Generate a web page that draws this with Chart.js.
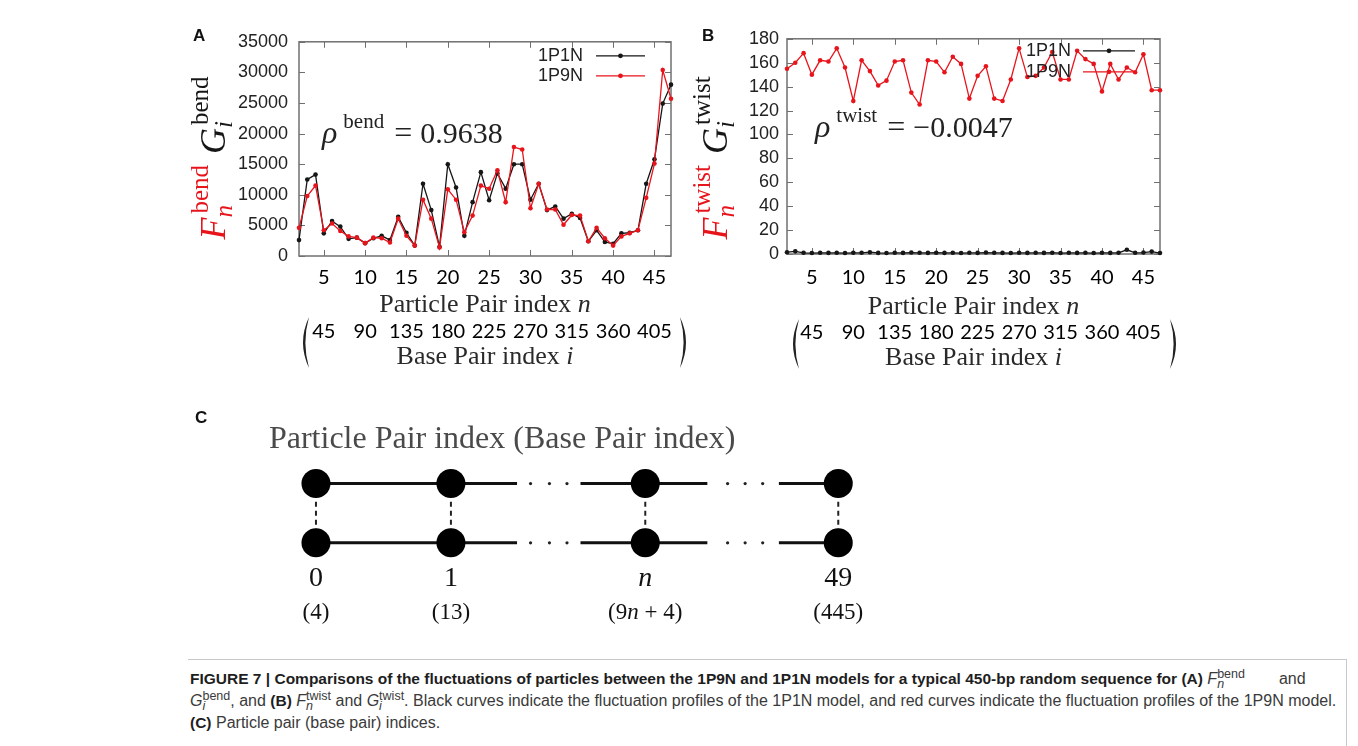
<!DOCTYPE html>
<html>
<head>
<meta charset="utf-8">
<script src="https://cdn.jsdelivr.net/npm/chart.js@4.4.1/dist/chart.umd.min.js"></script>
<style>
  html, body { margin: 0; padding: 0; background: #fff; }
  body { width: 1358px; height: 746px; position: relative; overflow: hidden; font-family: "Liberation Sans", Arial, sans-serif; }
  canvas { position: absolute; }
  .lt { position: absolute; font: bold 17px "Liberation Sans", Arial, sans-serif; color: #111; line-height: 17px; }
  .cap { position: absolute; left: 188px; top: 659px; width: 1158px; height: 100px; border-top: 1px solid #c8c8c8; border-right: 1px solid #c8c8c8; }
  .cap p { margin: 0; position: absolute; left: 2px; white-space: nowrap; font-size: 16px; color: #3a3a3a; line-height: 22px; }
  .cap b { color: #1e1e1e; font-size: 15.5px; }
  .ss { display: inline-block; vertical-align: -4px; line-height: 10px; font-size: 12.5px; }
  .ss span { display: block; }
</style>
</head>
<body>
<canvas id="chartA" width="510" height="355" style="left:180px;top:20px"></canvas>
<canvas id="chartB" width="500" height="355" style="left:690px;top:20px"></canvas>
<canvas id="chartC" width="720" height="250" style="left:180px;top:395px"></canvas>
<div class="lt" style="left:193px;top:27px">A</div>
<div class="lt" style="left:702px;top:27px">B</div>
<div class="lt" style="left:195px;top:409px">C</div>
<div class="cap">
  <p style="top:8px"><b>FIGURE 7 | Comparisons of the fluctuations of particles between the 1P9N and 1P1N models for a typical 450-bp random sequence for (A)</b> <i>F</i><span class="ss"><span>bend</span><span><i>n</i></span></span><span style="margin-left:34px">and</span></p>
  <p style="top:30px"><i>G</i><span class="ss"><span>bend</span><span><i>i</i></span></span>, and <b>(B)</b> <i>F</i><span class="ss"><span>twist</span><span><i>n</i></span></span> and <i>G</i><span class="ss"><span>twist</span><span><i>i</i></span></span>. Black curves indicate the fluctuation profiles of the 1P1N model, and red curves indicate the fluctuation profiles of the 1P9N model.</p>
  <p style="top:52px"><b>(C)</b> Particle pair (base pair) indices.</p>
</div>
<script>
// particle pair index n on the x axis of panels A and B
const particleIndex = [2, 3, 4, 5, 6, 7, 8, 9, 10, 11, 12, 13, 14, 15, 16, 17, 18, 19, 20, 21, 22, 23, 24,
  25, 26, 27, 28, 29, 30, 31, 32, 33, 34, 35, 36, 37, 38, 39, 40, 41, 42, 43, 44, 45, 46, 47];
const particleTicks = [5, 10, 15, 20, 25, 30, 35, 40, 45];
const baseTickLabels = ['45', '90', '135', '180', '225', '270', '315', '360', '405'];

// panel A, bending fluctuations
const bend1P1N = [2600, 12500, 13300, 3700, 5700, 4800, 2800, 3000, 2100, 2900, 3300, 2600, 6400, 3800,
  1700, 11800, 7500, 1500, 15000, 11200, 3300, 8800, 13700, 9100, 13500, 11000, 15000, 15000, 9200,
  11800, 7500, 8100, 6100, 6900, 6200, 2400, 4200, 2300, 2000, 3700, 3800, 4200, 11800, 15800, 24900, 28000];
const bend1P9N = [4600, 9800, 11500, 4200, 5300, 4100, 3200, 3000, 2100, 3000, 2900, 2200, 6100, 3300,
  1700, 9200, 6100, 1400, 10900, 9200, 3900, 6600, 11500, 11000, 14000, 8800, 17800, 17400, 7800,
  11800, 7600, 7600, 5100, 6700, 6600, 2400, 4600, 2900, 1700, 3200, 3700, 4200, 9500, 15100, 30400, 25700];

// panel B, twisting fluctuations
const twist1P1N = [1.5, 2.2, 1, 0.8, 1, 0.9, 1, 0.8, 1, 1, 1.5, 0.9, 0.8, 1, 0.9, 1.2, 1, 0.9, 1.1, 0.9,
  1, 0.8, 1, 0.9, 1.2, 1, 0.9, 0.8, 1, 0.9, 1, 0.9, 1.1, 0.8, 1, 0.9, 1, 0.8, 1, 0.9, 1, 3.5, 1, 1.2, 2, 0.8];
const twist1P9N = [155, 160, 168, 150, 162, 161, 172, 156, 128, 162, 153, 141, 145, 161, 162, 135, 125,
  162, 161, 152, 165, 159, 130, 149, 157, 130, 128, 146, 172, 148, 149, 156, 169, 146, 146, 170, 163,
  159, 136, 159, 146, 156, 152, 167, 137, 137];

// panel C, the particle pair ladder
const nodeX = [0, 1, 2.44, 3.87];
const nodeLabels = ['0', '1', 'n', '49'];
const baseLabels = ['(4)', '(13)', '(9n + 4)', '(445)'];
const rowSegments = [[0, 1.49], [1.96, 2.90], [3.43, 3.87]];
const ellipsisX = [1.59, 1.73, 1.86, 3.05, 3.18, 3.31];

const RED = '#e8141c';
const INK = '#161616';
const SANS = '"Liberation Sans", Arial, sans-serif';
const SERIF = '"Liberation Serif", "DejaVu Serif", serif';
const TICKF = 'Lato, "Open Sans", sans-serif';

function toPoints(values) {
  return particleIndex.map((n, i) => ({ x: n, y: values[i] }));
}

function measureRich(ctx, parts) {
  let w = 0;
  for (const p of parts) {
    w += p.gap || 0;
    let m = 0;
    for (const s of (p.stack || [p])) {
      ctx.font = s.font;
      m = Math.max(m, (s.dx || 0) + ctx.measureText(s.text).width);
    }
    w += m;
  }
  return w;
}

function drawRich(ctx, parts, x, y) {
  let cx = x;
  for (const p of parts) {
    cx += p.gap || 0;
    let m = 0;
    for (const s of (p.stack || [p])) {
      ctx.font = s.font;
      ctx.fillStyle = s.color || p.color || INK;
      ctx.fillText(s.text, cx + (s.dx || 0), y + (s.dy || 0));
      m = Math.max(m, (s.dx || 0) + ctx.measureText(s.text).width);
    }
    cx += m;
  }
}

function paren(ctx, xt, yt, yb, bulge, thick) {
  const mid = (yt + yb) / 2;
  ctx.beginPath();
  ctx.moveTo(xt, yt);
  ctx.quadraticCurveTo(xt + 2 * bulge, mid, xt, yb);
  ctx.quadraticCurveTo(xt + 2 * bulge - 2 * thick * Math.sign(bulge), mid, xt, yt);
  ctx.fill();
}

const panelDeco = {
  id: 'panelDeco',
  beforeDatasetsDraw(chart) {
    const { ctx, chartArea: a, scales } = chart;
    ctx.save();
    ctx.strokeStyle = '#707070';
    ctx.lineWidth = 1.5;
    ctx.strokeRect(a.left, a.top, a.width, a.height);
    ctx.lineWidth = 1;
    ctx.beginPath();
    scales.x.ticks.forEach(t => {
      const p = Math.round(scales.x.getPixelForValue(t.value)) + 0.5;
      ctx.moveTo(p, a.bottom); ctx.lineTo(p, a.bottom - 6);
      ctx.moveTo(p, a.top); ctx.lineTo(p, a.top + 6);
    });
    scales.y.ticks.forEach(t => {
      const p = Math.round(scales.y.getPixelForValue(t.value)) + 0.5;
      ctx.moveTo(a.left, p); ctx.lineTo(a.left + 6, p);
      ctx.moveTo(a.right, p); ctx.lineTo(a.right - 6, p);
    });
    ctx.stroke();
    ctx.restore();
  },
  afterDraw(chart, args, o) {
    const { ctx, chartArea: a, scales } = chart;
    ctx.save();
    // legend inside the frame
    const lg = o.legend;
    chart.data.datasets.forEach((ds, i) => {
      const y = a.top + lg.top + i * lg.step;
      ctx.font = `18px ${SANS}`;
      ctx.fillStyle = '#222';
      ctx.textAlign = 'right';
      ctx.textBaseline = 'middle';
      ctx.fillText(ds.label, a.right - lg.textRight, y);
      ctx.strokeStyle = ds.borderColor;
      ctx.lineWidth = 1.3;
      ctx.beginPath();
      ctx.moveTo(a.right - lg.lineFrom, y);
      ctx.lineTo(a.right - lg.lineTo, y);
      ctx.stroke();
      ctx.fillStyle = ds.borderColor;
      ctx.beginPath();
      ctx.arc(a.right - (lg.lineFrom + lg.lineTo) / 2, y, 2.4, 0, Math.PI * 2);
      ctx.fill();
    });
    ctx.textAlign = 'left';
    ctx.textBaseline = 'alphabetic';
    // correlation coefficient
    drawRich(ctx, o.rho, a.left + o.rhoAt[0], a.top + o.rhoAt[1]);
    // axis titles
    const xw = measureRich(ctx, o.xTitle);
    drawRich(ctx, o.xTitle, (a.left + a.right) / 2 - xw / 2, scales.x.bottom - o.titleLift);
    const x2w = measureRich(ctx, o.x2Title);
    drawRich(ctx, o.x2Title, (a.left + a.right) / 2 - x2w / 2, scales.x2.bottom - o.titleLift);
    // y title, rotated
    const yw = measureRich(ctx, o.yTitle);
    ctx.save();
    ctx.translate(a.left - o.yTitleGap, o.yTitleMid);
    ctx.rotate(-Math.PI / 2);
    drawRich(ctx, o.yTitle, -yw / 2, 0);
    ctx.restore();
    // big parentheses around the base pair row
    ctx.fillStyle = '#222';
    const s2 = scales.x2;
    paren(ctx, a.left + o.paren[0], s2.top - 1, s2.bottom - 2, -6, 2.4);
    paren(ctx, a.right + o.paren[1], s2.top - 1, s2.bottom - 2, 6, 2.4);
    ctx.restore();
  }
};

function sup(text, color, dx) {
  return { text, font: `25px ${SERIF}`, color, dy: -17, dx };
}
function sub(text, color, dx) {
  return { text, font: `italic 25px ${SERIF}`, color, dy: 7, dx };
}

function makePanel(id, cfg) {
  const tickFont = { family: TICKF, size: 20 };
  return new Chart(document.getElementById(id), {
    type: 'line',
    data: {
      datasets: [
        { label: '1P1N', data: toPoints(cfg.black), borderColor: INK, backgroundColor: INK,
          borderWidth: 1.3, pointRadius: 2.3, pointBorderWidth: 0, pointBackgroundColor: INK, order: 1, clip: 6 },
        { label: '1P9N', data: toPoints(cfg.red), borderColor: RED, backgroundColor: RED,
          borderWidth: 1.3, pointRadius: 2.3, pointBorderWidth: 0, pointBackgroundColor: RED, order: 0, clip: 6 }
      ]
    },
    options: {
      responsive: false,
      animation: false,
      events: [],
      layout: { padding: cfg.padding },
      plugins: {
        legend: { display: false },
        tooltip: { enabled: false },
        panelDeco: cfg.deco
      },
      scales: {
        x: {
          type: 'linear', position: 'bottom', weight: 0, min: 2, max: 47,
          afterBuildTicks: s => { s.ticks = particleTicks.map(v => ({ value: v })); },
          afterFit: s => { s.height = cfg.xHeight; },
          grid: { display: false, drawTicks: false },
          border: { display: false },
          ticks: { padding: cfg.xPad, font: tickFont, color: '#000', maxRotation: 0, autoSkip: false }
        },
        x2: {
          type: 'linear', position: 'bottom', weight: 1, min: 2, max: 47,
          afterBuildTicks: s => { s.ticks = particleTicks.map(v => ({ value: v })); },
          afterFit: s => { s.height = cfg.x2Height; },
          grid: { display: false, drawTicks: false },
          border: { display: false },
          ticks: { padding: cfg.x2Pad, font: tickFont, color: '#000', maxRotation: 0, autoSkip: false,
            callback: (v, i) => baseTickLabels[i] }
        },
        y: {
          min: 0, max: cfg.yMax,
          afterFit: s => { s.width = cfg.yWidth; },
          grid: { display: false, drawTicks: false },
          border: { display: false },
          ticks: { stepSize: cfg.yStep, padding: cfg.yPad, autoSkip: false,
            font: { family: SANS, size: 18 }, color: '#222', callback: v => String(v) }
        }
      }
    },
    plugins: [panelDeco]
  });
}

const xTitle = [
  { text: 'Particle Pair index ', font: `26px ${SERIF}`, color: '#2a2a2a' },
  { text: 'n', font: `italic 26px ${SERIF}`, color: '#2a2a2a' }
];
const x2Title = [
  { text: 'Base Pair index ', font: `26px ${SERIF}`, color: '#2a2a2a' },
  { text: 'i', font: `italic 26px ${SERIF}`, color: '#2a2a2a' }
];

function yTitleParts(word) {
  return [
    { text: 'F', font: `italic 36px ${SERIF}`, color: RED },
    { stack: [sup(word, RED, 4), sub('n', RED, 0)] },
    { text: ' ', font: `36px ${SERIF}`, gap: 2 },
    { text: 'G', font: `italic 36px ${SERIF}`, color: INK },
    { stack: [sup(word, INK, 3), sub('i', INK, 0)] }
  ];
}

function rhoParts(word, value) {
  return [
    { text: 'ρ', font: `italic 32px ${SERIF}`, color: '#222' },
    { text: word, font: `21px ${SERIF}`, color: '#222', dy: -15, gap: 6 },
    { text: '=', font: `32px ${SERIF}`, color: '#222', gap: 10 },
    { text: value, font: `30px ${SERIF}`, color: '#222', gap: 8 }
  ];
}

makePanel('chartA', {
  black: bend1P1N, red: bend1P9N,
  yMax: 35000, yStep: 5000, yWidth: 119, yPad: 11,
  xHeight: 62, x2Height: 52, xPad: 10, x2Pad: 2,
  padding: { left: 0, top: 14, right: 19, bottom: 5 },
  deco: {
    legend: { top: 14, step: 20, textRight: 88, lineFrom: 75, lineTo: 26 },
    rho: rhoParts('bend', '0.9638'), rhoAt: [23, 101],
    xTitle, x2Title, titleLift: 6,
    yTitle: yTitleParts('bend'), yTitleGap: 74, yTitleMid: 138,
    paren: [10, 9]
  }
});

makePanel('chartB', {
  black: twist1P1N, red: twist1P9N,
  yMax: 180, yStep: 20, yWidth: 97, yPad: 8,
  xHeight: 66, x2Height: 51, xPad: 11.5, x2Pad: 1,
  padding: { left: 0, top: 15, right: 30, bottom: 4 },
  deco: {
    legend: { top: 12, step: 21, textRight: 89, lineFrom: 77, lineTo: 25 },
    rho: rhoParts('twist', '\u22120.0047'), rhoAt: [28, 98],
    xTitle, x2Title, titleLift: 6,
    yTitle: yTitleParts('twist'), yTitleGap: 60, yTitleMid: 138,
    paren: [12, 10]
  }
});

// panel C: ladder of particle pairs
const rowData = yv => rowSegments.flatMap(([a, b]) => [{ x: a, y: yv }, { x: b, y: yv }, { x: b, y: null }]);
const rungData = nodeX.flatMap(xv => [{ x: xv, y: 0 }, { x: xv, y: 1 }, { x: xv, y: null }]);
const nodeData = nodeX.flatMap(xv => [{ x: xv, y: 1 }, { x: xv, y: 0 }]);
const dotData = ellipsisX.flatMap(xv => [{ x: xv, y: 1 }, { x: xv, y: 0 }]);

const diagramText = {
  id: 'diagramText',
  afterDraw(chart) {
    const { ctx, scales: { x, y } } = chart;
    ctx.save();
    ctx.textBaseline = 'middle';
    ctx.textAlign = 'center';
    ctx.font = `32px ${SERIF}`;
    ctx.fillStyle = '#4a4a4a';
    ctx.fillText('Particle Pair index (Base Pair index)', x.getPixelForValue(1.38), y.getPixelForValue(1.74));
    ctx.textAlign = 'left';
    const put = (str, xv, yv, size) => {
      const parts = str.split(/(n)/).filter(Boolean).map(t => ({
        text: t, font: `${t === 'n' ? 'italic ' : ''}${size}px ${SERIF}`, color: '#111'
      }));
      const w = measureRich(ctx, parts);
      drawRich(ctx, parts, x.getPixelForValue(xv) - w / 2, y.getPixelForValue(yv));
    };
    nodeX.forEach((xv, i) => {
      put(nodeLabels[i], xv, -0.61, 28);
      put(baseLabels[i], xv, -1.19, 23);
    });
    ctx.restore();
  }
};

new Chart(document.getElementById('chartC'), {
  type: 'scatter',
  data: {
    datasets: [
      { data: nodeData, pointRadius: 14.5, pointBackgroundColor: '#000', pointBorderWidth: 0, showLine: false },
      { data: dotData, pointRadius: 1.6, pointBackgroundColor: '#222', pointBorderWidth: 0, showLine: false },
      { data: rowData(1), showLine: true, borderColor: '#111', borderWidth: 3, pointRadius: 0 },
      { data: rowData(0), showLine: true, borderColor: '#111', borderWidth: 3, pointRadius: 0 },
      { data: rungData, showLine: true, borderColor: '#222', borderWidth: 2, borderDash: [5, 4], pointRadius: 0 }
    ]
  },
  options: {
    responsive: false,
    animation: false,
    events: [],
    layout: { padding: 0 },
    plugins: { legend: { display: false }, tooltip: { enabled: false } },
    scales: {
      x: { type: 'linear', min: -0.9, max: 4.22, display: false },
      y: { type: 'linear', min: -1.48, max: 2.25, display: false }
    }
  },
  plugins: [diagramText]
});
</script>
</body>
</html>
